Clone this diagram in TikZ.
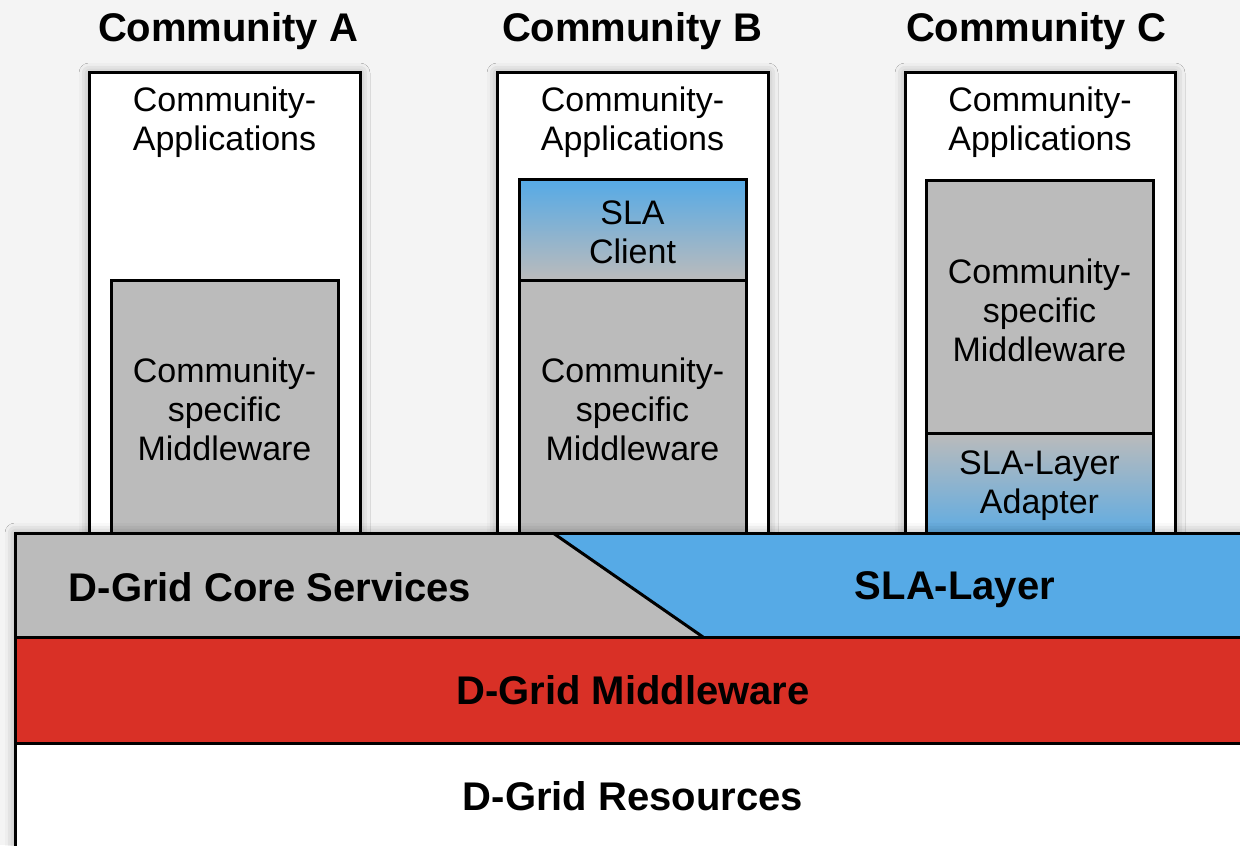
\documentclass[tikz,border=0pt]{standalone}
\usepackage{fontspec}
\setmainfont{Liberation Sans}
\usetikzlibrary{shadows.blur}
\definecolor{bgc}{HTML}{F4F4F4}
\definecolor{slablue}{HTML}{56AAE6}
\definecolor{midgray}{HTML}{BBBBBB}
\definecolor{dgred}{HTML}{D93026}
\tikzset{
  frame/.style={draw=black, line width=1.5pt},
  colbox/.style={frame, fill=white, blur shadow={shadow xshift=0pt, shadow yshift=0pt, shadow blur radius=5pt, shadow opacity=35}},
  grayblock/.style={frame, fill=midgray},
  lbl/.style={font=\fontsize{17}{19.5}\selectfont, align=center, inner sep=0pt},
  title/.style={font=\fontsize{20}{24}\selectfont\bfseries, inner sep=0pt},
  layerlbl/.style={font=\fontsize{20}{24}\selectfont\bfseries, inner sep=0pt}
}
\begin{document}
\begin{tikzpicture}[x=0.5pt, y=-0.5pt]
\fill[bgc] (0,0) rectangle (1240,845);
\useasboundingbox (0,0) rectangle (1240,845);

% titles
\node[title] (tA) at (228,31) {Community A};
\node[title] (tB) at (632,31) {Community B};
\node[title] (tC) at (1036,31) {Community C};

% columns
\draw[colbox] (89,73) rectangle (360,545);
\draw[colbox] (497,73) rectangle (768,545);
\draw[colbox] (905,73) rectangle (1175,545);

\node[lbl] (appA) at (224.5,122) {Community-\\Applications};
\node[lbl] (appB) at (632.5,122) {Community-\\Applications};
\node[lbl] (appC) at (1040,122) {Community-\\Applications};

% column A
\draw[grayblock] (111,280) rectangle (338,545);
\node[lbl] (mwA) at (224.5,409) {Community-\\specific\\Middleware};

% column B
\shade[top color=slablue, bottom color=midgray] (519,180) rectangle (746,280);
\draw[frame] (519,180) rectangle (746,280);
\node[lbl] (slaB) at (632.5,232) {SLA\\Client};
\draw[grayblock] (519,280) rectangle (746,545);
\node[lbl] (mwB) at (632.5,409) {Community-\\specific\\Middleware};

% column C
\draw[grayblock] (926,181) rectangle (1153,433);
\node[lbl] (mwC) at (1039.5,310) {Community-\\specific\\Middleware};
\shade[top color=midgray, bottom color=slablue] (926,433) rectangle (1153,545);
\draw[frame] (926,433) rectangle (1153,545);
\node[lbl] (adC) at (1039.5,486) {SLA-Layer\\Adapter};

% layers
\fill[white, blur shadow={shadow xshift=0pt, shadow yshift=0pt, shadow blur radius=5pt, shadow opacity=35}] (15,533) rectangle (1260,870);
\fill[midgray] (15,533) -- (553,533) -- (703,637) -- (15,637) -- cycle;
\fill[slablue] (553,533) -- (1260,533) -- (1260,637) -- (703,637) -- cycle;
\fill[dgred] (15,637) rectangle (1260,743);
\fill[white] (15,743) rectangle (1260,870);
\draw[frame] (1260,533) -- (15,533) -- (15,870);
\draw[frame] (15,637) -- (1260,637);
\draw[frame] (15,743) -- (1260,743);
\draw[frame] (553,533) -- (703,637);

\node[layerlbl] (core) at (270,587) {D-Grid Core Services};
\node[layerlbl] (slal) at (955,590) {SLA-Layer};
\node[layerlbl] (dgm) at (633,690) {D-Grid Middleware};
\node[layerlbl] (dgr) at (633,796) {D-Grid Resources};
\end{tikzpicture}
\end{document}
